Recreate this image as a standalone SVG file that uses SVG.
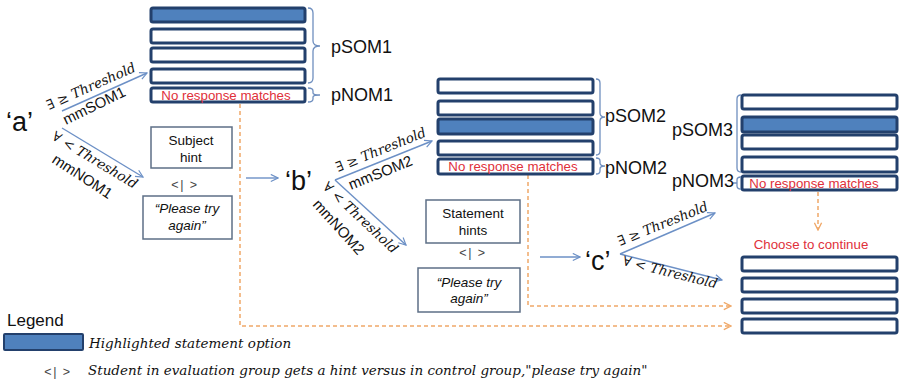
<svg xmlns="http://www.w3.org/2000/svg" width="900" height="383" viewBox="0 0 900 383">
<defs>
<style>
.bar{fill:#fff;stroke:#23406c;stroke-width:3}
.hl{fill:#4f81bd;stroke:#23406c;stroke-width:3}
.box{fill:#fff;stroke:#5d6f86;stroke-width:1.5}
.brace{fill:none;stroke:#6f8fbf;stroke-width:1.3}
.ar{fill:none;stroke:#6c90c6;stroke-width:1.4;marker-end:url(#ba)}
.dash{fill:none;stroke:#f0a868;stroke-width:1.5;stroke-dasharray:4 3}
.red{font-family:"Liberation Sans",Arial,sans-serif;font-size:13.3px;fill:#e0303a}
.lbl{font-family:"Liberation Sans",Arial,sans-serif;font-size:18px;fill:#111}
.big{font-family:"Liberation Sans",Arial,sans-serif;font-size:27px;fill:#111}
.mm{font-family:"Liberation Sans",Arial,sans-serif;font-size:15px;fill:#111}
.th{font-family:"DejaVu Serif",serif;font-style:italic;font-size:13.5px;fill:#111}
.bt{font-family:"Liberation Sans",Arial,sans-serif;font-size:13.5px;fill:#111;text-anchor:middle}
.it{font-style:italic}
.sym{font-family:"Liberation Sans",Arial,sans-serif;font-size:12.5px;fill:#444;text-anchor:middle;letter-spacing:1.5px}
.leg{font-family:"DejaVu Serif",serif;font-style:italic;font-size:13.5px;fill:#111}
</style>
<marker id="ba" viewBox="0 0 10 10" refX="9" refY="5" markerWidth="9" markerHeight="9" markerUnits="userSpaceOnUse" orient="auto"><path d="M1,1 L9,5 L1,9" fill="none" stroke="#6c90c6" stroke-width="1.3"/></marker>
<marker id="oa" viewBox="0 0 10 10" refX="9" refY="5" markerWidth="9" markerHeight="9" markerUnits="userSpaceOnUse" orient="auto"><path d="M1,1 L9,5 L1,9" fill="none" stroke="#f0a868" stroke-width="1.5"/></marker>
</defs>
<rect width="900" height="383" fill="#fff"/>

<g id="connectors">
<path class="dash" d="M240,104 L240,326 L731,326" marker-end="url(#oa)"/>
<path class="dash" d="M528,175 L528,306 L731,306" marker-end="url(#oa)"/>
<path class="dash" d="M818,192 L818,230" marker-end="url(#oa)"/>
<line class="ar" x1="62" y1="111" x2="147" y2="73"/>
<line class="ar" x1="62" y1="128" x2="143" y2="177"/>
<line class="ar" x1="246" y1="178" x2="278" y2="178"/>
<line class="ar" x1="335" y1="180" x2="432" y2="141"/>
<line class="ar" x1="335" y1="180" x2="406" y2="245"/>
<line class="ar" x1="540" y1="257" x2="580" y2="257"/>
<line class="ar" x1="620" y1="254" x2="715" y2="213"/>
<line class="ar" x1="620" y1="254" x2="722" y2="280"/>
</g>

<g id="stack1">
<rect class="hl" x="151" y="8" width="154" height="14" rx="2"/>
<rect class="bar" x="151" y="29" width="154" height="14" rx="2"/>
<rect class="bar" x="151" y="48" width="154" height="14" rx="2"/>
<rect class="bar" x="151" y="69" width="154" height="14" rx="2"/>
<rect class="bar" x="151" y="88" width="154" height="14" rx="2"/>
<text class="red" x="226" y="100" text-anchor="middle">No response matches</text>
<path class="brace" d="M308,8 Q313,8 313,13 L313,41 Q313,46 320,46 Q313,46 313,51 L313,78 Q313,83 308,83"/>
<path class="brace" d="M308,88 Q313,88 313,91 L313,93 Q313,95 320,95 Q313,95 313,97 L313,99 Q313,102 308,102"/>
<text class="lbl" x="331" y="53">pSOM1</text>
<text class="lbl" x="331" y="101">pNOM1</text>
</g>

<g id="stack2">
<rect class="bar" x="438" y="79" width="155" height="14" rx="2"/>
<rect class="bar" x="438" y="101" width="155" height="14" rx="2"/>
<rect class="hl" x="438" y="119" width="155" height="15" rx="2"/>
<rect class="bar" x="438" y="141" width="155" height="14" rx="2"/>
<rect class="bar" x="438" y="159" width="155" height="15" rx="2"/>
<text class="red" x="513" y="171" text-anchor="middle">No response matches</text>
<path class="brace" d="M596,79 Q600,79 600,83 L600,113 Q600,117 605,117 Q600,117 600,121 L600,151 Q600,155 596,155"/>
<path class="brace" d="M596,158 Q600,158 600,161 L600,163 Q600,166 605,166 Q600,166 600,169 L600,171 Q600,174 596,174"/>
<text class="lbl" x="605" y="122">pSOM2</text>
<text class="lbl" x="605" y="174">pNOM2</text>
</g>

<g id="stack3">
<rect class="bar" x="742" y="95" width="155" height="14" rx="2"/>
<rect class="hl" x="742" y="117" width="155" height="15" rx="2"/>
<rect class="bar" x="742" y="135" width="155" height="14" rx="2"/>
<rect class="bar" x="742" y="157" width="155" height="15" rx="2"/>
<rect class="bar" x="742" y="176" width="155" height="14" rx="2"/>
<text class="red" x="814" y="188" text-anchor="middle">No response matches</text>
<path class="brace" d="M741,95 Q737,95 737,99 L737,168 Q737,172 741,172"/>
<path class="brace" d="M741,177 Q737,177 737,180 L737,186 Q737,189 741,189 M733,183 L737,183"/>
<text class="lbl" x="672" y="136">pSOM3</text>
<text class="lbl" x="672" y="187">pNOM3</text>
</g>

<g id="stack4">
<text class="red" x="811" y="249" text-anchor="middle">Choose to continue</text>
<rect class="bar" x="742" y="257" width="155" height="14" rx="2"/>
<rect class="bar" x="742" y="278" width="155" height="14" rx="2"/>
<rect class="bar" x="742" y="299" width="155" height="14" rx="2"/>
<rect class="bar" x="742" y="319" width="155" height="14" rx="2"/>
</g>

<g id="node-a">
<text class="big" x="6" y="131">‘a’</text>
<text class="th" transform="translate(49,110) rotate(-24)">∃ ≥ Threshold</text>
<text class="mm" transform="translate(66,125) rotate(-26)">mmSOM1</text>
<text class="th" transform="translate(51,139) rotate(31)">∀ &lt; Threshold</text>
<text class="mm" transform="translate(51,162) rotate(33)">mmNOM1</text>
</g>

<g id="subject-hint">
<rect class="box" x="151" y="127" width="81" height="41"/>
<text class="bt" x="191" y="145">Subject</text>
<text class="bt" x="191" y="162">hint</text>
<text class="sym" x="185" y="189">&lt;| &gt;</text>
<rect class="box" x="143" y="196" width="89" height="43"/>
<text class="bt it" x="187" y="213">“Please try</text>
<text class="bt it" x="187" y="230">again”</text>
</g>

<g id="node-b">
<text class="big" x="285" y="190">‘b’</text>
<text class="th" transform="translate(338,172) rotate(-22)">∃ ≥ Threshold</text>
<text class="mm" transform="translate(351,190) rotate(-22)">mmSOM2</text>
<text class="th" transform="translate(322,188) rotate(43)">∀ &lt; Threshold</text>
<text class="mm" transform="translate(312,205) rotate(48)">mmNOM2</text>
</g>

<g id="statement-hints">
<rect class="box" x="426" y="200" width="94" height="43"/>
<text class="bt" x="473" y="218">Statement</text>
<text class="bt" x="473" y="235">hints</text>
<text class="sym" x="473" y="257">&lt;| &gt;</text>
<rect class="box" x="418" y="268" width="102" height="44"/>
<text class="bt it" x="469" y="287">“Please try</text>
<text class="bt it" x="469" y="303">again”</text>
</g>

<g id="node-c">
<text class="big" x="585" y="270">‘c’</text>
<text class="th" transform="translate(620,246) rotate(-22)">∃ ≥ Threshold</text>
<text class="th" transform="translate(622,265) rotate(14)">∀ &lt; Threshold</text>
</g>

<g id="legend">
<text x="7" y="326" font-family="Liberation Sans, Arial, sans-serif" font-size="17" fill="#111">Legend</text>
<rect x="4" y="334" width="79" height="16" rx="1" fill="#4f81bd" stroke="#23406c" stroke-width="2"/>
<text class="leg" x="89" y="348">Highlighted statement option</text>
<text class="sym" x="58" y="376">&lt;| &gt;</text>
<text class="leg" x="88" y="375">Student in evaluation group gets a hint versus in control group,"please try again"</text>
</g>
</svg>
